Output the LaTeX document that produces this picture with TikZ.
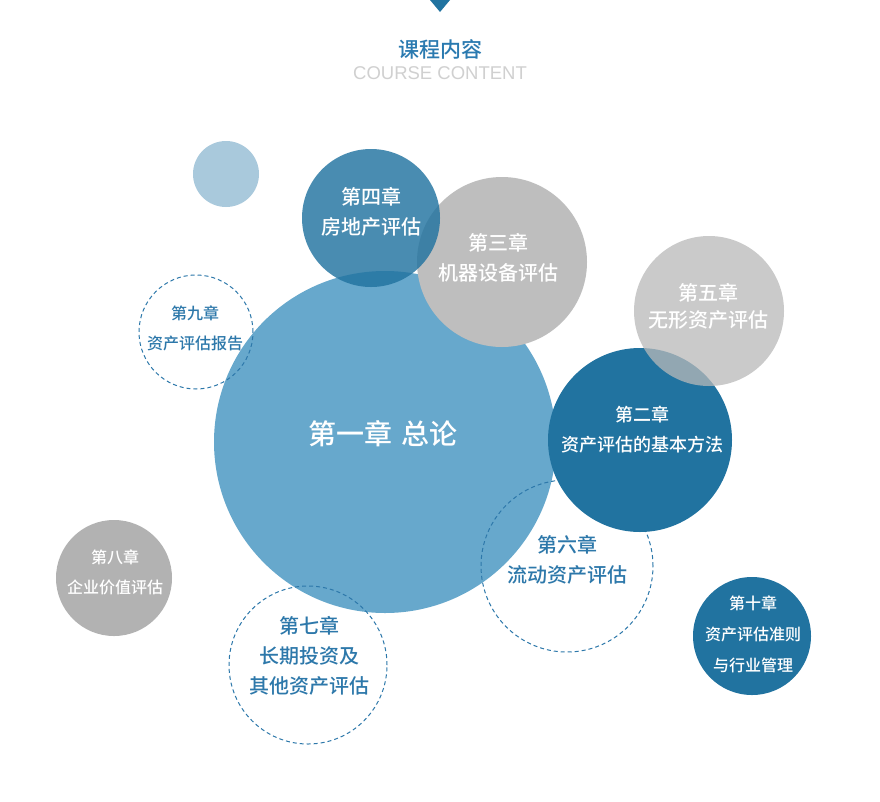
\documentclass[tikz,border=0pt]{standalone}
\usepackage{fontspec}
\newfontfamily\cjk{Noto Sans CJK SC}[BoldFont={Noto Sans CJK SC Medium}]
\newfontfamily\latinsans{Liberation Sans}

\definecolor{deepblue}{RGB}{33,115,160}
\definecolor{midblue}{RGB}{103,168,204}
\definecolor{paleblue}{RGB}{169,201,220}
\definecolor{greyA}{RGB}{190,190,190}
\definecolor{greyB}{RGB}{185,185,185}
\definecolor{greyC}{RGB}{178,178,178}
\definecolor{lineblue}{RGB}{45,120,170}
\definecolor{titleblue}{RGB}{42,122,176}
\definecolor{faint}{RGB}{208,208,208}

\begin{document}
\begin{tikzpicture}[x=1pt, y=-1pt,
  bubble/.style={circle, inner sep=0pt, minimum size=#1},
  ring/.style={circle, draw=lineblue, line width=1pt, dash pattern=on 4pt off 3pt, inner sep=0pt, minimum size=#1},
  chap/.style={align=center, inner sep=0pt, text=white, font=\cjk\bfseries\fontsize{#1}{30}\selectfont},
  chapblue/.style={chap=#1, text=lineblue}]

\useasboundingbox[fill=white] (0,0) rectangle (880,801);

% ---------- heading ----------
\fill[deepblue] (430,0) -- (450,0) -- (440,12) -- cycle;
\node[text=titleblue, font=\cjk\bfseries\fontsize{21}{25}\selectfont, inner sep=0pt] (title) at (440,49) {课程内容};
\node[text=faint, font=\latinsans\fontsize{18.5}{22}\selectfont, inner sep=0pt] (subtitle) at (440,73) {COURSE CONTENT};

% ---------- bubbles ----------
\node[bubble=66pt, fill=paleblue] (dot) at (226,174) {};
\node[bubble=342pt, fill=midblue] (ch1) at (385,442) {};
\node[bubble=170pt, fill=greyA] (ch3) at (502,262) {};
\node[bubble=138pt, fill=deepblue, fill opacity=0.82] (ch4) at (371,218) {};
\node[ring=114pt] (ch9) at (196,332) {};
\node[ring=172pt] (ch6) at (567,566) {};
\node[ring=158pt] (ch7) at (308,665) {};
\node[bubble=184pt, fill=deepblue] (ch2) at (640,440) {};
\node[bubble=150pt, fill=greyB, fill opacity=0.75] (ch5) at (709,311) {};
\node[bubble=116pt, fill=greyC] (ch8) at (114,578) {};
\node[bubble=118pt, fill=deepblue] (ch10) at (752,636) {};

% ---------- chapter titles ----------
\node[chap=28] (t1) at (383,434) {第一章\hspace{0.35em}总论};
\node[chap=18] (t2) at (642,430) {第二章\\资产评估的基本方法};
\node[chap=20] (t3) at (498,258) {第三章\\机器设备评估};
\node[chap=20] (t4) at (371,212) {第四章\\房地产评估};
\node[chap=20, font=\cjk\bfseries\fontsize{20}{27}\selectfont] (t5) at (708,306) {第五章\\无形资产评估};
\node[chapblue=20] (t6) at (567,560) {第六章\\流动资产评估};
\node[chapblue=20] (t7) at (309,656) {第七章\\长期投资及\\其他资产评估};
\node[chap=16] (t8) at (115,572) {第八章\\企业价值评估};
\node[chapblue=16] (t9) at (195,328) {第九章\\资产评估报告};
\node[chap=16, font=\cjk\bfseries\fontsize{16}{31}\selectfont] (t10) at (753,634) {第十章\\资产评估准则\\与行业管理};

\end{tikzpicture}
\end{document}
